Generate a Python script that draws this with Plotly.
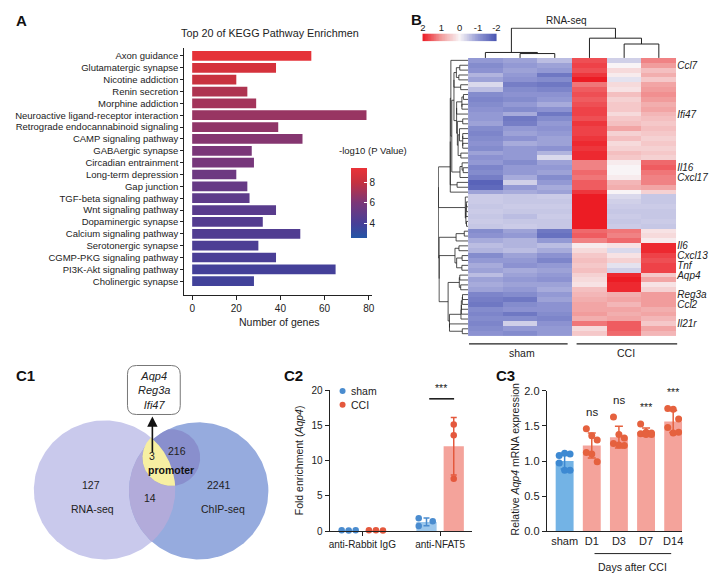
import numpy as np
import plotly.graph_objects as go

W, H = 720, 588
FONT = "Liberation Sans, Arial, Helvetica, sans-serif"

# ---------------- data ----------------
# Panel A : KEGG enrichment
pathways = ["Axon guidance", "Glutamatergic synapse", "Nicotine addiction", "Renin secretion",
            "Morphine addiction", "Neuroactive ligand-receptor interaction",
            "Retrograde endocannabinoid signaling", "CAMP signaling pathway", "GABAergic synapse",
            "Circadian entrainment", "Long-term depression", "Gap junction",
            "TGF-beta signaling pathway", "Wnt signaling pathway", "Dopaminergic synapse",
            "Calcium signaling pathway", "Serotonergic synapse", "CGMP-PKG signaling pathway",
            "PI3K-Akt signaling pathway", "Cholinergic synapse"]
gene_counts = [54, 38, 20, 25, 29, 79, 39, 50, 27, 28, 20, 25, 26, 38, 32, 49, 30, 38, 65, 28]
neg_log10_p = [9.2, 8.6, 8.1, 7.4, 7.1, 6.8, 6.6, 6.3, 6.0, 5.9, 5.5, 5.2, 4.9, 4.7, 4.5,
               4.4, 4.2, 4.1, 3.9, 3.8]

# Panel B : RNA-seq z-scores (rows top->bottom; columns sham1-3, CCI1-3)
samples = ["sham1", "sham2", "sham3", "CCI1", "CCI2", "CCI3"]
heat_rows = [
    [-1.0, -0.9, -0.6, 1.6, -0.4, 1.2],
    [-1.2, -1.0, -0.9, 1.7, 0.0, 1.0],
    [-1.1, -0.9, -1.0, 1.6, 0.3, 0.6],
    [-0.7, -1.0, -1.5, 1.8, 0.1, 0.8],
    [-0.9, -1.1, -1.2, 2.0, -0.2, 0.5],
    [-0.3, -1.4, -1.5, 1.3, 0.3, 0.9],
    [-0.6, -1.2, -1.3, 1.5, 0.2, 1.0],
    [-1.2, -1.1, -1.1, 1.6, 0.6, 1.1],
    [-1.3, -1.2, -1.0, 1.5, 0.4, 1.0],
    [-1.2, -1.0, -0.8, 1.6, 0.5, 0.8],
    [-1.1, -1.2, -1.1, 1.7, 0.5, 0.9],
    [-1.0, -0.8, -1.5, 1.7, 0.3, 0.7],
    [-1.0, -1.5, -1.2, 1.6, 0.5, 0.6],
    [-0.9, -1.4, -1.0, 1.8, 0.6, 0.5],
    [-1.2, -1.0, -1.1, 1.7, 0.9, 0.6],
    [-1.3, -0.9, -1.0, 1.7, 0.4, 0.5],
    [-1.2, -1.1, -0.9, 1.8, 0.6, 0.4],
    [-1.1, -0.8, -0.9, 1.9, 0.3, 0.5],
    [-1.2, -1.0, -1.1, 1.8, 0.4, 0.4],
    [-0.9, -1.0, -0.7, 1.9, 0.6, 0.5],
    [-1.1, -1.0, -0.3, 1.9, 0.5, 0.4],
    [-1.0, -1.2, -0.9, 1.2, 0.1, 1.4],
    [-1.3, -1.0, -1.0, 1.2, 0.0, 1.5],
    [-1.2, -1.0, -0.9, 1.4, 0.0, 1.3],
    [-1.4, -0.8, -1.2, 1.3, 0.1, 1.2],
    [-1.8, -0.4, -1.0, 1.5, 0.7, 1.2],
    [-1.7, -1.0, -0.8, 1.5, 0.8, 0.9],
    [-0.9, -0.8, -0.9, 1.8, 0.0, 0.4],
    [-0.45, -0.5, -0.45, 2.0, -0.3, -0.5],
    [-0.45, -0.5, -0.5, 2.0, -0.4, -0.5],
    [-0.5, -0.45, -0.45, 2.0, -0.45, -0.45],
    [-0.45, -0.5, -0.5, 2.0, -0.5, -0.5],
    [-0.5, -0.6, -0.45, 2.0, -0.45, -0.5],
    [-0.45, -0.5, -0.5, 2.0, -0.5, -0.45],
    [-0.5, -0.45, -0.5, 2.0, -0.45, -0.5],
    [-1.2, -0.9, -1.5, 1.4, 1.3, 0.2],
    [-1.1, -1.0, -1.6, 1.5, 1.2, 0.3],
    [-0.8, -0.7, -1.0, 1.2, 1.4, 0.1],
    [-0.6, -0.7, -0.6, 0.1, 0.2, 1.9],
    [-0.7, -0.6, -0.8, 0.3, -0.3, 1.9],
    [-1.2, -0.9, -1.1, 0.5, 0.2, 1.7],
    [-1.0, -1.0, -1.3, 0.6, 0.4, 1.6],
    [-0.8, -1.1, -1.0, 0.5, -0.2, 1.7],
    [-0.9, -0.8, -0.9, 0.6, -0.4, 1.7],
    [-0.6, -0.9, -1.0, 0.4, 1.9, 0.5],
    [-0.9, -1.0, -1.1, 0.3, 2.0, 0.9],
    [-0.8, -0.9, -0.9, 0.2, 1.9, 0.2],
    [-0.9, -1.0, -0.8, 0.6, 1.9, 0.4],
    [-1.3, -1.2, -1.0, 0.7, 0.8, 1.0],
    [-1.4, -1.5, -0.9, 0.8, 0.9, 1.0],
    [-1.5, -1.2, -1.1, 0.9, 0.7, 1.0],
    [-1.2, -1.1, -1.1, 0.9, 0.9, 0.8],
    [-1.3, -1.5, -1.2, 1.0, 0.8, 0.9],
    [-1.2, -1.2, -1.3, 0.8, 0.9, 0.7],
    [-1.3, -0.4, -1.1, 1.3, 1.5, 0.5],
    [-1.2, -1.0, -1.0, 0.3, 1.5, 0.9],
    [-1.1, -1.2, -1.0, 0.5, 1.4, 0.7],
]
gene_names = ["Ccl7", "Ifi47", "Il16", "Cxcl17", "Il6", "Cxcl13", "Tnf", "Aqp4", "Reg3a", "Ccl2", "Il21r"]
gene_rows = [1, 11, 22, 24, 38, 40, 42, 44, 48, 50, 54]

# Panel C1 : Venn counts
venn_rna_only = 127
venn_rna_chip = 14
venn_chip_only = 2241
venn_promoter_shared = 3
venn_promoter_chip = 216
promoter_genes = ["Aqp4", "Reg3a", "Ifi47"]

# Panel C2 : ChIP-qPCR fold enrichment
c2_groups = ["anti-Rabbit IgG", "anti-NFAT5"]
c2_sham = [[0.12, 0.08, 0.10], [1.8, 0.7, 1.4]]
c2_cci = [[0.10, 0.12, 0.08], [15.1, 13.6, 7.4]]

# Panel C3 : relative Aqp4 mRNA
c3_groups = ["sham", "D1", "D3", "D7", "D14"]
c3_values = [[1.08, 1.11, 1.10, 0.97, 0.87, 0.87],
             [1.46, 1.36, 1.30, 1.12, 1.10, 0.99],
             [1.63, 1.38, 1.33, 1.25, 1.23, 1.22],
             [1.53, 1.41, 1.40, 1.39, 1.38, 1.38],
             [1.75, 1.74, 1.60, 1.48, 1.40, 1.41]]
c3_sig = ["", "ns", "ns", "***", "***"]

# ---------------- helpers ----------------
def xd(a, b):
    return [a / W, b / W]

def yd(top, bottom):
    return [1 - bottom / H, 1 - top / H]

def circle_pts(c, r, n=240):
    t = np.linspace(0, 2 * np.pi, n)
    return c[0] + r * np.cos(t), c[1] + r * np.sin(t)

def lens_pts(c1, r1, c2, r2, n=120):
    d = np.hypot(c2[0] - c1[0], c2[1] - c1[1])
    if d + r1 <= r2:
        return circle_pts(c1, r1)
    if d + r2 <= r1:
        return circle_pts(c2, r2)
    a = np.arccos((d * d + r1 * r1 - r2 * r2) / (2 * d * r1))
    b = np.arccos((d * d + r2 * r2 - r1 * r1) / (2 * d * r2))
    t0 = np.arctan2(c2[1] - c1[1], c2[0] - c1[0])
    t1 = np.arctan2(c1[1] - c2[1], c1[0] - c2[0])
    th = np.linspace(t0 - a, t0 + a, n)
    ph = np.linspace(t1 - b, t1 + b, n)
    x1, y1 = c1[0] + r1 * np.cos(th), c1[1] + r1 * np.sin(th)
    x2, y2 = c2[0] + r2 * np.cos(ph), c2[1] + r2 * np.sin(ph)
    if np.hypot(x1[-1] - x2[0], y1[-1] - y2[0]) > np.hypot(x1[-1] - x2[-1], y1[-1] - y2[-1]):
        x2, y2 = x2[::-1], y2[::-1]
    return np.concatenate([x1, x2]), np.concatenate([y1, y2])

def adjacent_linkage(X):
    """average-linkage clustering that only merges neighbouring clusters (keeps order)"""
    X = np.asarray(X, float)
    D = np.linalg.norm(X[:, None, :] - X[None, :, :], axis=2)
    clusters = [dict(m=[i], pos=float(i), h=0.0) for i in range(len(X))]
    segs = []
    while len(clusters) > 1:
        best = None
        for j in range(len(clusters) - 1):
            a, b = clusters[j], clusters[j + 1]
            d = D[np.ix_(a["m"], b["m"])].mean()
            if best is None or d < best[0]:
                best = (d, j)
        d, j = best
        a, b = clusters[j], clusters[j + 1]
        h = max(d, a["h"], b["h"])
        segs.append((a["pos"], a["h"], b["pos"], b["h"], h))
        clusters[j:j + 2] = [dict(m=a["m"] + b["m"], pos=(a["pos"] + b["pos"]) / 2, h=h)]
    return segs, clusters[0]["h"]

def seg_lines(segs, horizontal):
    xs, ys = [], []
    for p1, h1, p2, h2, h in segs:
        hs = [h1, h, h, h2]
        ps = [p1, p1, p2, p2]
        if horizontal:
            xs += hs + [None]; ys += ps + [None]
        else:
            xs += ps + [None]; ys += hs + [None]
    return xs, ys

fig = go.Figure()
ann = []
shapes = []

def text(x, y, s, size=10, xanchor="center", yanchor="middle", color="#222", angle=0, bold=False):
    if bold:
        s = "<b>" + s + "</b>"
    ann.append(dict(x=x, y=y, xref="x8", yref="y8", text=s, showarrow=False, xanchor=xanchor,
                    yanchor=yanchor, textangle=angle, font=dict(family=FONT, size=size, color=color)))

# ---------------- Panel A ----------------
a_scale = [[0.0, "#2456a6"], [0.2, "#463f98"], [0.5, "#7a3779"], [0.8, "#c6323f"], [1.0, "#ea3237"]]
fig.add_trace(go.Bar(
    x=gene_counts, y=list(range(len(pathways))), orientation="h", width=0.82,
    marker=dict(color=neg_log10_p, colorscale=a_scale, cmin=2.6, cmax=9.4, line=dict(width=0),
                colorbar=dict(x=341 / W, xanchor="left", y=1 - 201 / H, yanchor="middle",
                              len=90, lenmode="pixels", thickness=16, outlinewidth=0,
                              tickvals=[4, 6, 8], ticks="inside", ticklen=3, tickcolor="white",
                              tickfont=dict(family=FONT, size=10, color="#222"))),
    xaxis="x", yaxis="y", showlegend=False, hoverinfo="skip"))

# ---------------- Panel B ----------------
heat = np.array(heat_rows)
n_rows = heat.shape[0]
b_scale = [[0.0, "#4a56b2"], [0.25, "#9399d4"], [0.5, "#f8f4f6"], [0.75, "#f19c9c"], [1.0, "#ec1c24"]]
fig.add_trace(go.Heatmap(z=heat, x=list(range(6)), y=list(range(n_rows)), colorscale=b_scale,
                         zmin=-2, zmax=2, showscale=False, xaxis="x2", yaxis="y2", hoverinfo="skip"))

row_segs, row_top = adjacent_linkage(heat)
rx, ry = seg_lines(row_segs, horizontal=True)
fig.add_trace(go.Scatter(x=rx, y=ry, mode="lines", line=dict(color="#222", width=0.8),
                         xaxis="x3", yaxis="y3", showlegend=False, hoverinfo="skip"))

col_segs, col_top = adjacent_linkage(heat.T)
cx, cy = seg_lines(col_segs, horizontal=False)
fig.add_trace(go.Scatter(x=cx, y=cy, mode="lines", line=dict(color="#222", width=1),
                         xaxis="x4", yaxis="y4", showlegend=False, hoverinfo="skip"))

key = np.linspace(2, -2, 101)
fig.add_trace(go.Heatmap(z=[key], x=key, y=[0], colorscale=b_scale, zmin=-2, zmax=2,
                         showscale=False, xaxis="x5", yaxis="y5", hoverinfo="skip"))

# ---------------- Panel C1 (Venn) ----------------
L_c, L_r = (104, 494), 71
R_c, R_r = (198.5, 495), 70
P_c, P_r = (171, 461), 29
for (px_, py_), col in [(circle_pts(L_c, L_r), "#c9c9ec"),
                        (circle_pts(R_c, R_r), "#96abde"),
                        (lens_pts(L_c, L_r, R_c, R_r), "#b2abda"),
                        (lens_pts(P_c, P_r, R_c, R_r), "#898fcd"),
                        (lens_pts(P_c, P_r, L_c, L_r), "#f7efa2")]:
    fig.add_trace(go.Scatter(x=px_, y=py_, fill="toself", fillcolor=col, mode="lines",
                             line=dict(width=0, color=col), xaxis="x8", yaxis="y8",
                             showlegend=False, hoverinfo="skip"))

# ---------------- Panel C2 ----------------
sham_blue_bar, sham_blue_dot = "#9cc7ec", "#4a8ccf"
cci_red_bar, cci_red_dot = "#f4a39b", "#e4583d"
off = 0.175
c2_jit = [[-0.09, 0.0, 0.09], [-0.1, -0.1, 0.08]]
for vals, sign, bcol, dcol, jit in [(c2_sham, -1, sham_blue_bar, sham_blue_dot, c2_jit),
                                    (c2_cci, 1, cci_red_bar, cci_red_dot, [[-0.09, 0.0, 0.09], [0, 0, 0]])]:
    xs = [g + sign * off for g in range(len(vals))]
    means = [float(np.mean(v)) for v in vals]
    sds = [float(np.std(v, ddof=1)) for v in vals]
    fig.add_trace(go.Bar(x=xs, y=means, width=0.26, marker=dict(color=bcol, line=dict(width=0)),
                         error_y=dict(type="data", array=sds, color=dcol, thickness=1.5, width=3),
                         xaxis="x6", yaxis="y6", showlegend=False, hoverinfo="skip"))
    px_, py_ = [], []
    for g, v in enumerate(vals):
        for k, val in enumerate(v):
            px_.append(xs[g] + jit[g][k])
            py_.append(val)
    fig.add_trace(go.Scatter(x=px_, y=py_, mode="markers", marker=dict(color=dcol, size=6.5),
                             xaxis="x6", yaxis="y6", showlegend=False, hoverinfo="skip",
                             cliponaxis=False))

# ---------------- Panel C3 ----------------
c3_jit = [-0.2, 0.0, 0.2, -0.2, 0.0, 0.2]
c3_bar_cols = ["#73b3e5"] + ["#f4a39b"] * (len(c3_groups) - 1)
c3_dot_cols = ["#3d89d2"] + ["#e5613e"] * (len(c3_groups) - 1)
c3_means = [float(np.mean(v)) for v in c3_values]
c3_sds = [float(np.std(v, ddof=1)) for v in c3_values]
for g in range(len(c3_groups)):
    fig.add_trace(go.Bar(x=[g], y=[c3_means[g]], width=0.66,
                         marker=dict(color=c3_bar_cols[g], line=dict(width=0)),
                         error_y=dict(type="data", array=[c3_sds[g]], color=c3_dot_cols[g],
                                      thickness=1.5, width=4),
                         xaxis="x7", yaxis="y7", showlegend=False, hoverinfo="skip"))
    fig.add_trace(go.Scatter(x=[g + j for j in c3_jit], y=c3_values[g], mode="markers",
                             marker=dict(color=c3_dot_cols[g], size=7),
                             xaxis="x7", yaxis="y7", showlegend=False, hoverinfo="skip"))
    if c3_sig[g]:
        ann.append(dict(x=g, y=max(c3_values[g]) + 0.12, xref="x7", yref="y7", text=c3_sig[g],
                        showarrow=False, yanchor="bottom",
                        font=dict(family=FONT, size=11.5 if c3_sig[g] == "ns" else 10.5,
                                  color="#222")))

# C2 legend keys
fig.add_trace(go.Scatter(x=[343, 343], y=[393, 407], mode="markers",
                         marker=dict(color=[sham_blue_dot, cci_red_dot], size=6),
                         xaxis="x8", yaxis="y8", showlegend=False, hoverinfo="skip"))

# ---------------- layout / axes ----------------
ax_common = dict(showgrid=False, zeroline=False, linecolor="#222", linewidth=1,
                 tickfont=dict(family=FONT, size=10, color="#222"), tickcolor="#222")
hidden = dict(visible=False, showgrid=False, zeroline=False)

layout = dict(
    width=W, height=H, margin=dict(l=0, r=0, t=0, b=0),
    paper_bgcolor="white", plot_bgcolor="rgba(0,0,0,0)", barmode="overlay",
    font=dict(family=FONT, color="#222"),
    xaxis=dict(domain=xd(184, 373), range=[-3.6, 81.7], tickvals=[0, 20, 40, 60, 80],
               ticks="outside", ticklen=4, showline=True, anchor="y", **ax_common),
    yaxis=dict(domain=yd(43, 295), range=[20.16, -0.66], tickvals=list(range(len(pathways))),
               ticktext=pathways, ticks="outside", ticklen=3, showline=True, anchor="x",
               **{**ax_common, "tickfont": dict(family=FONT, size=9.5, color="#222")}),
    xaxis2=dict(domain=xd(469, 678), range=[-0.5, 5.5], anchor="y2", **hidden),
    yaxis2=dict(domain=yd(53, 337), range=[n_rows - 0.5, -0.5], anchor="x2", side="right",
                tickvals=gene_rows, ticktext=["<i>" + g + "</i>" for g in gene_names],
                showgrid=False, zeroline=False, showline=False, ticks="",
                tickfont=dict(family=FONT, size=10, color="#222")),
    xaxis3=dict(domain=xd(439, 469), range=[row_top * 1.01, 0], anchor="y3", **hidden),
    yaxis3=dict(domain=yd(53, 337), range=[n_rows - 0.5, -0.5], anchor="x3", **hidden),
    xaxis4=dict(domain=xd(469, 678), range=[-0.5, 5.5], anchor="y4", **hidden),
    yaxis4=dict(domain=yd(22, 53), range=[0, col_top * 1.02], anchor="x4", **hidden),
    xaxis5=dict(domain=xd(420, 503), range=[2.2, -2.3], anchor="y5", side="top",
                tickvals=[2, 1, 0, -1, -2], ticktext=["2", "1", "0", "-1", "-2"], ticks="",
                showgrid=False, zeroline=False, showline=False,
                tickfont=dict(family=FONT, size=9.5, color="#222")),
    yaxis5=dict(domain=yd(28, 36), range=[-0.5, 0.5], anchor="x5", **hidden),
    xaxis6=dict(domain=xd(330, 473), range=[-0.42, 1.41], tickvals=[0, 1], ticktext=c2_groups,
                ticks="outside", ticklen=4, showline=True, anchor="y6", **ax_common),
    yaxis6=dict(domain=yd(392, 536), range=[0, 20], tickvals=[0, 5, 10, 15, 20],
                ticks="outside", ticklen=4, showline=True, anchor="x6", **ax_common),
    xaxis7=dict(domain=xd(548, 684), range=[-0.66, 4.33], tickvals=list(range(len(c3_groups))),
                ticktext=c3_groups, ticks="", showline=True, anchor="y7",
                **{**ax_common, "tickfont": dict(family=FONT, size=11, color="#222")}),
    yaxis7=dict(domain=yd(393, 536), range=[0, 2], tickvals=[0, 0.5, 1, 1.5, 2],
                tickformat=".1f", ticks="outside", ticklen=4, showline=True, anchor="x7",
                **{**ax_common, "tickfont": dict(family=FONT, size=11, color="#222")}),
    xaxis8=dict(domain=[0, 1], range=[0, W], anchor="y8", **hidden),
    yaxis8=dict(domain=[0, 1], range=[H, 0], anchor="x8", **hidden),
)

# panel labels
for lab, x, y in [("A", 13, 15), ("B", 410, 14), ("C1", 13, 377), ("C2", 282, 377), ("C3", 495, 377)]:
    text(x, y, lab, size=15, xanchor="left", bold=True, color="#111")

# Panel A texts
text(270, 28, "Top 20 of KEGG Pathway Enrichmen", size=10.8)
text(280, 323, "Number of genes", size=10.5)
text(337, 148, "-log10 (P Value)", size=9.5, xanchor="left")

# Panel B texts
text(568, 15, "RNA-seq", size=10)
text(523, 354, "sham", size=10.5)
text(628, 354, "CCI", size=10.5)
shapes.append(dict(type="line", xref="x8", yref="y8", x0=470, x1=569, y0=345, y1=345,
                   line=dict(color="#222", width=1.2)))
shapes.append(dict(type="line", xref="x8", yref="y8", x0=578, x1=679, y0=345, y1=345,
                   line=dict(color="#222", width=1.2)))

# Panel C1 texts
text(90, 489, str(venn_rna_only), size=10.5)
text(92, 513, "RNA-seq", size=10.5)
text(150, 502, str(venn_rna_chip), size=10.5)
text(219, 489, str(venn_chip_only), size=10.5)
text(223, 513, "ChIP-seq", size=10.5)
text(152, 459, str(venn_promoter_shared), size=10.5)
text(177, 454, str(venn_promoter_chip), size=10.5)
text(171, 474, "promoter", size=10.5, bold=True, color="#111")
shapes.append(dict(type="path", xref="x8", yref="y8",
                   path="M 136 367 L 171 367 Q 180 367 180 376 L 180 408 Q 180 417 171 417 "
                        "L 136 417 Q 127 417 127 408 L 127 376 Q 127 367 136 367 Z",
                   line=dict(color="#777", width=1), fillcolor="white"))
text(153.5, 392, "<br>".join("<i>" + g + "</i>" for g in promoter_genes), size=11)
ann.append(dict(x=152, y=419, xref="x8", yref="y8", ax=152, ay=457, axref="x8", ayref="y8",
                text="", showarrow=True, arrowhead=2, arrowsize=1.3, arrowwidth=1.6,
                arrowcolor="#111"))

# Panel C2 texts
text(349, 393, "sham", size=10.5, xanchor="left")
text(349, 407, "CCI", size=10.5, xanchor="left")
text(299, 464, "Fold enrichment (<i>Aqp4</i>)", size=10.5, angle=-90)
text(442, 390, "***", size=10.5)
shapes.append(dict(type="line", xref="x8", yref="y8", x0=430, x1=455, y0=401, y1=401,
                   line=dict(color="#111", width=1.5)))

# Panel C3 texts
text(516, 463, "Relative <i>Aqp4</i> mRNA expression", size=10.5, angle=-90)
text(634, 573, "Days after CCI", size=10.5)
shapes.append(dict(type="line", xref="x8", yref="y8", x0=596, x1=673, y0=559, y1=559,
                   line=dict(color="#222", width=1)))

layout["annotations"] = ann
layout["shapes"] = shapes
fig.update_layout(**layout)
fig.write_html("out.html", config={"staticPlot": True, "displayModeBar": False},
               post_script="document.body.style.margin='0';document.body.style.overflow='hidden';")
